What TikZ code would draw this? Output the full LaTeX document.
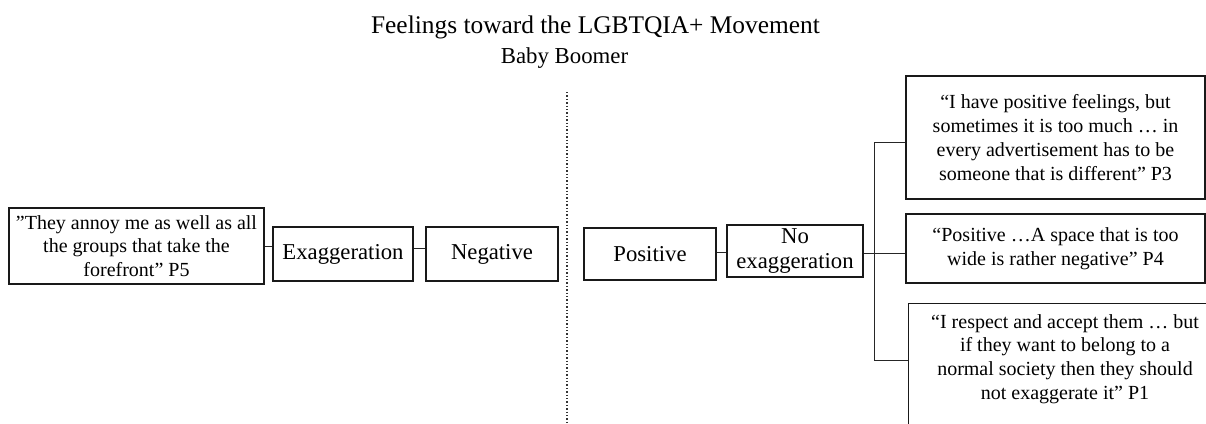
\documentclass[tikz,border=0pt]{standalone}
\usepackage{fontspec}
\setmainfont{Liberation Serif}
\begin{document}
\begin{tikzpicture}[x=1pt,y=-1pt,
  frame/.style={line width=1.3pt, draw=black!90},
  box/.style={frame, inner sep=0pt, align=center},
  lbl/.style={box, font=\fontsize{22.7}{25}\selectfont},
  quote/.style={box, font=\fontsize{20}{23.8}\selectfont},
  link/.style={line width=1pt, draw=black!85},
  divider/.style={line width=1.3pt, draw=black!80, dash pattern=on 1.4pt off 2pt},
]
\useasboundingbox[fill=white] (0,0) rectangle (1206,423);

% headings
\node[anchor=base, font=\fontsize{25.4}{30}\selectfont] (title) at (595.5,33)
  {Feelings toward the LGBTQIA+ Movement};
\node[anchor=base, font=\fontsize{22.8}{27}\selectfont] (sub) at (564.5,63)
  {Baby Boomer};

% negative side
\node[quote, minimum width=255pt, minimum height=76pt] (p5) at (136.5,246)
  {”They annoy me as well as all\\ the groups that take the\\ forefront” P5};
\node[lbl, minimum width=140pt, minimum height=54pt] (exag) at (343,254) {Exaggeration};
\node[lbl, minimum width=132pt, minimum height=54pt] (neg) at (492,254) {Negative};

% positive side
\node[lbl, minimum width=132pt, minimum height=52pt] (pos) at (650,254) {Positive};
\node[lbl, minimum width=136pt, minimum height=52pt] (noexag) at (795,251) {No\\ exaggeration};

\node[quote, minimum width=299pt, minimum height=123pt] (p3) at (1055.5,137.5)
  {“I have positive feelings, but\\ sometimes it is too much … in\\ every advertisement has to be\\ someone that is different” P3};
\node[quote, minimum width=299pt, minimum height=69pt] (p4) at (1055.5,248.5)
  {“Positive …A space that is too\\ wide is rather negative” P4};
\node[quote, draw=none, minimum width=312pt, minimum height=110pt] (p1) at (1065,359)
  {“I respect and accept them … but\\ if they want to belong to a\\ normal society then they should\\ not exaggerate it” P1};
% this box runs on past the lower edge
\draw[frame] ([yshift=-30pt]p1.south west) -- (p1.north west) -- (p1.north east)
  -- ([yshift=-30pt]p1.south east);

% dotted divider
\coordinate (divtop) at (567,92);
\coordinate (divbot) at (567,423);
\draw[divider] (divtop) -- (divbot);

% connectors
\draw[link] (p5.east) -- (p5.east -| exag.west);
\draw[link] ([yshift=6pt]exag.east) -- ([yshift=6pt]exag.east -| neg.west);
\draw[link] ([yshift=2pt]pos.east) -- ([yshift=2pt]pos.east -| noexag.west);

\coordinate (brtop) at (874,142);
\coordinate (brbot) at (874,360);
\draw[link] (p3.west |- brtop) -- (brtop) -- (brbot) -- (p1.west |- brbot);
\draw[link] ([yshift=-2pt]noexag.east) -- ([yshift=-2pt]noexag.east -| p4.west);
\end{tikzpicture}
\end{document}
